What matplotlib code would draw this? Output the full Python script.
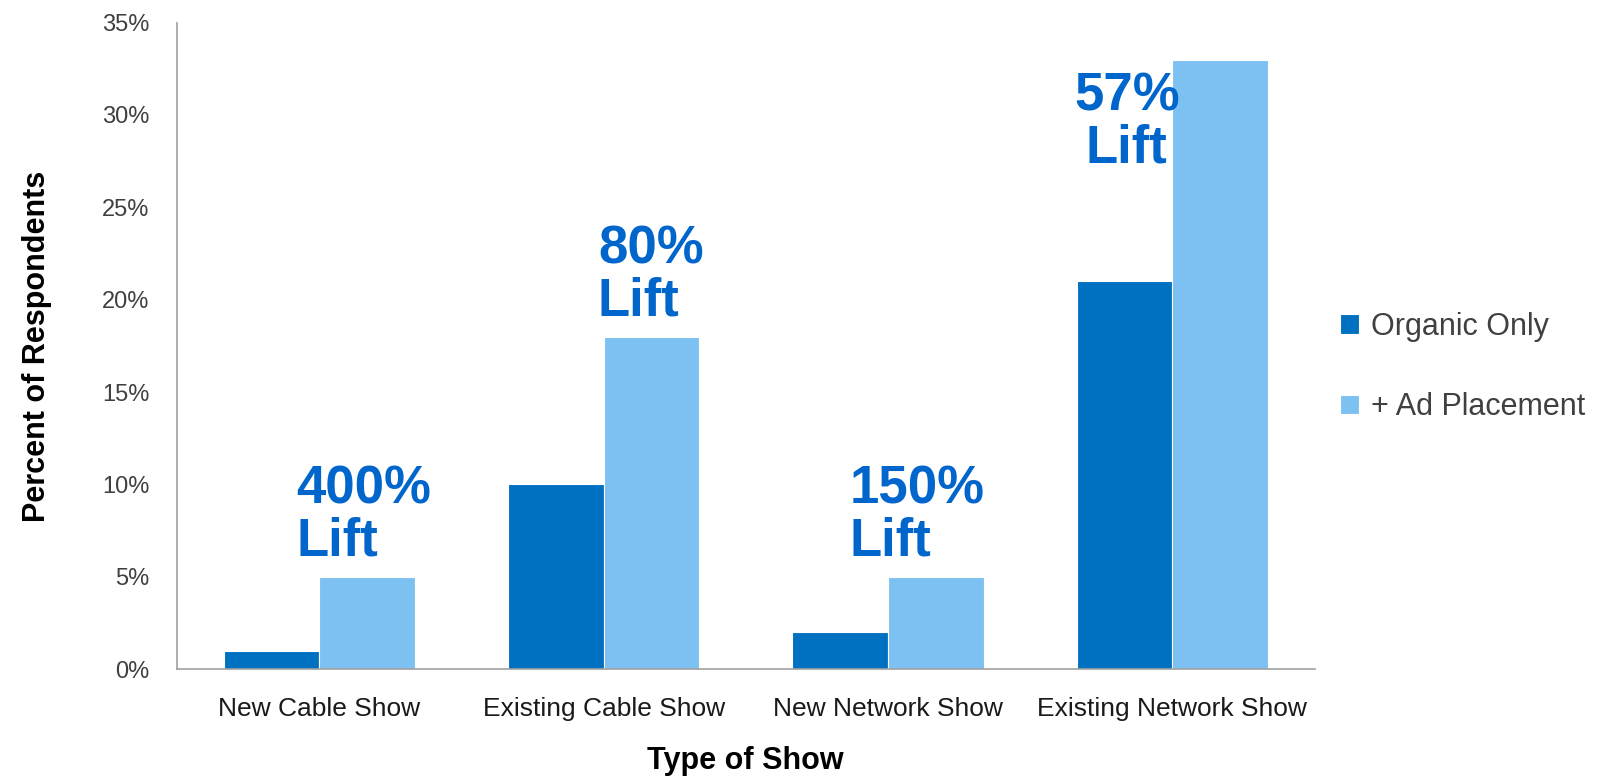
import matplotlib.pyplot as plt
import numpy as np

plt.rcParams['font.family'] = ['Liberation Sans', 'DejaVu Sans']

shows = ['New Cable Show', 'Existing Cable Show', 'New Network Show', 'Existing Network Show']
organic = [1, 10, 2, 21]
ad_placement = [5, 18, 5, 33]
lift_labels = ['400%\nLift', '80%\nLift', '150%\nLift', '57%\nLift']
y_ticks = [0, 5, 10, 15, 20, 25, 30, 35]

dark = '#0070C0'
light = '#7DC1F2'
lift_color = '#0066CC'

fig = plt.figure(figsize=(16.09, 7.79), dpi=100)
ax = fig.add_axes([0.110, 0.141, 0.707, 0.830])

x = np.arange(len(shows))
w = 0.336
ax.bar(x - w / 2, organic, w, color=dark, edgecolor='white', linewidth=0.8, label='Organic Only')
ax.bar(x + w / 2, ad_placement, w, color=light, edgecolor='white', linewidth=0.8, label='+ Ad Placement')

ax.set_xlim(-0.5, 3.5)
ax.set_ylim(0, 35)
ax.set_yticks(y_ticks)
ax.set_yticklabels([f'{t}%' for t in y_ticks], fontsize=17, color='#404040')
ax.set_xticks(x)
ax.set_xticklabels(shows, fontsize=19, color='#1a1a1a')
ax.tick_params(axis='both', length=0)
ax.tick_params(axis='y', pad=20)
ax.tick_params(axis='x', pad=20)

for s in ['top', 'right']:
    ax.spines[s].set_visible(False)
for s in ['left', 'bottom']:
    ax.spines[s].set_color('#A0A0A0')
    ax.spines[s].set_linewidth(1.2)

ax.set_ylabel('Percent of Respondents', fontsize=22, fontweight='bold', labelpad=36)
ax.set_xlabel('Type of Show', fontsize=22, fontweight='bold', labelpad=18)

# lift callouts
pos = [(-0.08, 8.3, 'left'), (0.98, 21.3, 'left'), (1.865, 8.3, 'left'), (2.84, 29.6, 'center')]
for (px, py, ha), txt in zip(pos, lift_labels):
    ax.text(px, py, txt, color=lift_color, fontsize=38, fontweight='bold',
            ha=ha, va='center', multialignment=ha, linespacing=1.05)

fig.legend(loc='center left', bbox_to_anchor=(0.816, 0.529), frameon=False,
           fontsize=22, labelspacing=1.65, handlelength=0.6, handleheight=0.6,
           handletextpad=0.4, labelcolor='#404040')

fig.savefig('out.png', dpi=100)
